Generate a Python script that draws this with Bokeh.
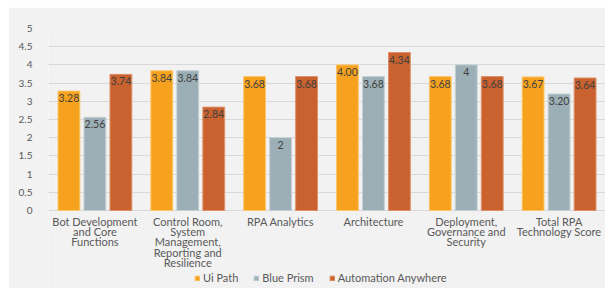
from bokeh.plotting import figure
from bokeh.models import ColumnDataSource, FactorRange, Legend, LegendItem, Range1d, FixedTicker
from bokeh.transform import dodge
from bokeh.core.properties import value
from bokeh.embed import file_html
from bokeh.resources import INLINE

categories = [
    "Bot Development\nand Core\nFunctions",
    "Control Room,\nSystem\nManagement,\nReporting and\nResilience",
    "RPA Analytics",
    "Architecture",
    "Deployment,\nGovernance and\nSecurity",
    "Total RPA\nTechnology Score",
]
series_names = ["Ui Path", "Blue Prism", "Automation Anywhere"]
ui_path = [3.28, 3.84, 3.68, 4.00, 3.68, 3.67]
blue_prism = [2.56, 3.84, 2, 3.68, 4, 3.20]
automation_anywhere = [3.74, 2.84, 3.68, 4.34, 3.68, 3.64]
ui_path_labels = ["3.28", "3.84", "3.68", "4.00", "3.68", "3.67"]
blue_prism_labels = ["2.56", "3.84", "2", "3.68", "4", "3.20"]
automation_anywhere_labels = ["3.74", "2.84", "3.68", "4.34", "3.68", "3.64"]
y_ticks = [0, 0.5, 1, 1.5, 2, 2.5, 3, 3.5, 4, 4.5, 5]
y_tick_labels = ["0", "0.5", "1", "1.5", "2", "2.5", "3", "3.5", "4", "4.5", "5"]

colors = ["#F7A21E", "#9CAFB6", "#C9622E"]
edge_colors = ["#FBC66A", "#C3D0D4", "#DE9169"]
FONT = "Lato"
TEXT_COLOR = "#595959"

# layout: frame top (value 5) 21px below figure top, value 0 at 182px below that,
# frame runs to figure bottom (78px below value 0) to hold category labels and legend
Y_MAX = 5
Y_MIN = -Y_MAX * 78 / 182

source = ColumnDataSource(data=dict(
    cat=categories,
    ui=ui_path, bp=blue_prism, aa=automation_anywhere,
    ui_l=ui_path_labels, bp_l=blue_prism_labels, aa_l=automation_anywhere_labels,
))

p = figure(
    width=597, height=281,
    x_range=FactorRange(*categories, range_padding=0),
    y_range=Range1d(Y_MIN, Y_MAX),
    x_axis_location=None,
    output_backend="svg", toolbar_location=None,
    min_border_left=40, min_border_right=0, min_border_top=21, min_border_bottom=0,
)
p.margin = (7, 0, 0, 8)
p.background_fill_color = "#F2F2F2"
p.border_fill_color = "#F2F2F2"
p.outline_line_color = None

offsets = [-0.28, 0.0, 0.28]
cols = ["ui", "bp", "aa"]
labcols = ["ui_l", "bp_l", "aa_l"]
items = []
for name, col, lab, off, c, ec in zip(series_names, cols, labcols, offsets, colors, edge_colors):
    r = p.vbar(x=dodge("cat", off, range=p.x_range), top=col, width=0.235, bottom=0,
               source=source, fill_color=c, line_color=ec, line_width=1)
    p.text(x=dodge("cat", off, range=p.x_range), y=col, text=lab, source=source,
           text_align="center", text_baseline="top", y_offset=3,
           text_font_size="10.5px", text_color="#404040", text_font=value(FONT))
    items.append(LegendItem(label=name, renderers=[r]))

# category labels, one text glyph per line, under the value-0 line
split = [c.split("\n") for c in categories]
max_lines = max(len(s) for s in split)
for i in range(max_lines):
    xs = [c for c, s in zip(categories, split) if len(s) > i]
    ts = [s[i] for s in split if len(s) > i]
    p.text(x=xs, y=[0] * len(xs), text=ts, y_offset=11 + 10.2 * i,
           text_align="center", text_baseline="middle",
           text_font_size="11px", text_color=TEXT_COLOR, text_font=value(FONT))

p.xgrid.grid_line_color = None
p.ygrid.grid_line_color = "#D9D9D9"
p.ygrid.ticker = FixedTicker(ticks=y_ticks)

p.yaxis.ticker = FixedTicker(ticks=y_ticks)
p.yaxis.major_label_overrides = {t: l for t, l in zip(y_ticks, y_tick_labels)}
p.yaxis.axis_line_color = None
p.yaxis.major_tick_line_color = None
p.yaxis.minor_tick_line_color = None
p.yaxis.major_label_standoff = 10
p.yaxis.major_label_text_font = FONT
p.yaxis.major_label_text_font_size = "10px"
p.yaxis.major_label_text_color = TEXT_COLOR

legend = Legend(items=items, orientation="horizontal", location=(146, 4),
                glyph_width=6, glyph_height=6, label_standoff=3, spacing=15,
                padding=0, margin=0, border_line_color=None, background_fill_alpha=0,
                label_text_font=FONT, label_text_font_size="11px", label_text_color=TEXT_COLOR)
p.add_layout(legend, "center")

open("out.html", "w").write(file_html(p, INLINE))
